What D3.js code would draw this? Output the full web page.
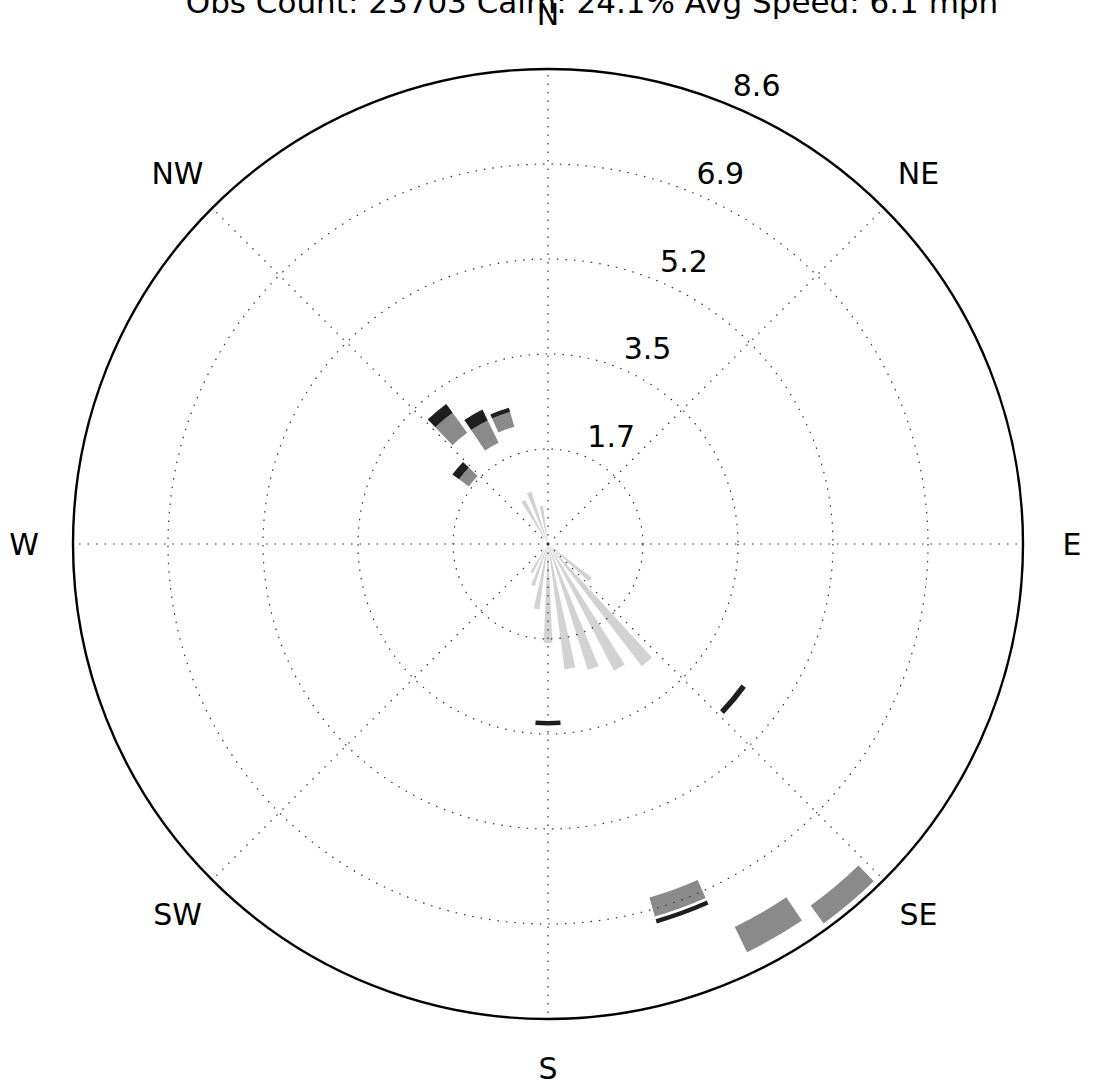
<!DOCTYPE html>
<html>
<head>
<meta charset="utf-8">
<style>
body { margin: 0; background: #fff; }
svg { font-family: "DejaVu Sans", sans-serif; }
.grid { fill: none; stroke: #333; stroke-width: 1.2; stroke-dasharray: 1.5,7; }
.frame { fill: none; stroke: #000; stroke-width: 2.4; }
.lbl { font-size: 30px; fill: #000; }
</style>
</head>
<body>
<svg width="1093" height="1088"></svg>
<script src="https://d3js.org/d3.v7.min.js"></script>
<script>

// title and axis text
var title = "Obs Count: 23703 Calm: 24.1% Avg Speed: 6.1 mph";
var compass = ["N", "NE", "E", "SE", "S", "SW", "W", "NW"];
var rTicks = [1.728, 3.456, 5.184, 6.912, 8.64];
var rLabels = ["1.7", "3.5", "5.2", "6.9", "8.6"];
var rMax = 8.64;

// bar segments: direction (deg), bottom, height, shade (0 light, 1 mid, 2 dark)
var segDir    = [130, 140, 150, 160, 170, 180, 190, 200, 210, 330, 340, 350,
                 130, 140, 150, 160, 160, 180,
                 310, 310, 320, 320, 330, 330, 340, 340];
var segBottom = [0, 0, 0, 0, 0, 0, 0, 0, 0, 0, 0, 0,
                 4.35, 8.13, 7.75, 6.69, 7.10, 3.22,
                 1.78, 2.00, 2.50, 2.95, 2.05, 2.50, 2.22, 2.50];
var segHeight = [1.0, 2.8, 2.6, 2.4, 2.3, 1.8, 1.2, 0.8, 0.6, 0.9, 1.0, 0.7,
                 0.10, 0.40, 0.51, 0.36, 0.08, 0.08,
                 0.22, 0.15, 0.45, 0.20, 0.45, 0.22, 0.28, 0.08];
var segShade  = [0, 0, 0, 0, 0, 0, 0, 0, 0, 0, 0, 0,
                 2, 1, 1, 1, 2, 2,
                 1, 2, 1, 2, 1, 2, 1, 2];
var shades = ["#d2d2d2", "#8a8a8a", "#1e1e1e"];
var widths = [5, 8, 8];

var svg = d3.select("svg"),
    cx = 548, cy = 544, R = 475;

var r = d3.scaleLinear().domain([0, rMax]).range([0, R]);
var rad = function(deg) { return deg * Math.PI / 180; };

var g = svg.append("g").attr("transform", "translate(" + cx + "," + cy + ")");

// bars
var arc = d3.arc()
  .innerRadius(function(d) { return r(d.b); })
  .outerRadius(function(d) { return r(d.b + d.h); })
  .startAngle(function(d) { return rad(d.dir - widths[d.s] / 2); })
  .endAngle(function(d) { return rad(d.dir + widths[d.s] / 2); });

var segs = segDir.map(function(d, i) {
  return {dir: d, b: segBottom[i], h: segHeight[i], s: segShade[i]};
});

g.selectAll(".bar")
  .data(segs)
  .enter().append("path")
  .attr("class", "bar")
  .attr("d", arc)
  .attr("fill", function(d) { return shades[d.s]; });

// grid rings
g.selectAll(".ring")
  .data(rTicks.slice(0, -1))
  .enter().append("circle")
  .attr("class", "grid")
  .attr("r", function(d) { return r(d); });

// spokes
g.selectAll(".spoke")
  .data(d3.range(0, 360, 45))
  .enter().append("line")
  .attr("class", "grid")
  .attr("x2", function(d) { return R * Math.sin(rad(d)); })
  .attr("y2", function(d) { return -R * Math.cos(rad(d)); });

g.append("circle").attr("class", "frame").attr("r", R);

// radial labels at 22.5 deg
g.selectAll(".rl")
  .data(rTicks)
  .enter().append("text")
  .attr("class", "lbl")
  .attr("x", function(d) { return r(d) * Math.sin(rad(22.5)) + 3; })
  .attr("y", function(d) { return -r(d) * Math.cos(rad(22.5)) - 9; })
  .text(function(d, i) { return rLabels[i]; });

// compass labels
g.selectAll(".cl")
  .data(compass)
  .enter().append("text")
  .attr("class", "lbl")
  .attr("text-anchor", "middle")
  .attr("dominant-baseline", "central")
  .attr("x", function(d, i) { return 524 * Math.sin(rad(i * 45)); })
  .attr("y", function(d, i) { return -524 * Math.cos(rad(i * 45)) + (i === 0 ? -6 : 0); })
  .text(function(d) { return d; });

svg.append("text")
  .attr("class", "lbl")
  .attr("x", 592)
  .attr("y", 13)
  .attr("text-anchor", "middle")
  .style("font-size", "31px")
  .text(title);

</script>
</body>
</html>
